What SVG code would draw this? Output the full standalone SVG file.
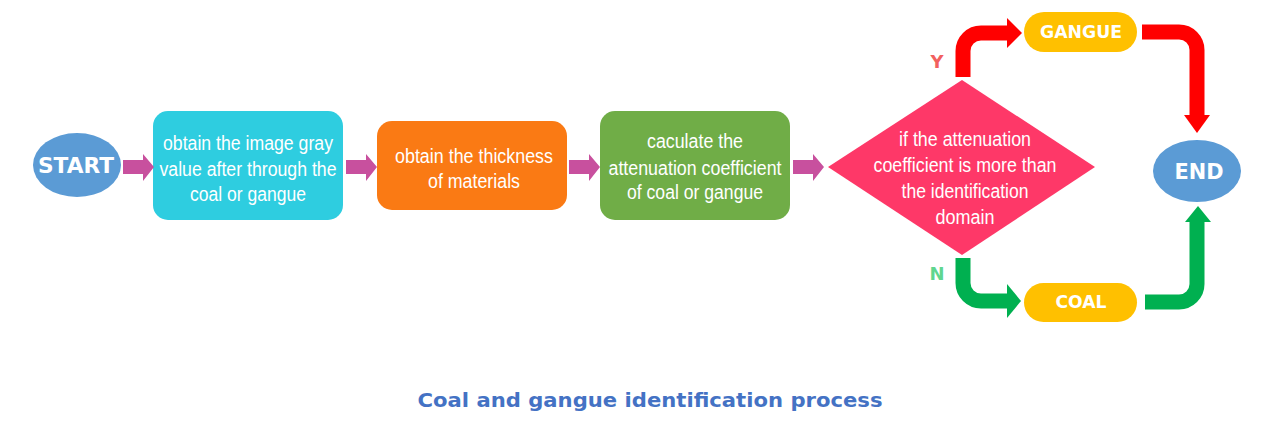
<svg xmlns="http://www.w3.org/2000/svg" width="1261" height="441" viewBox="0 0 1261 441">
<style>
.t{font-family:"Liberation Sans",Arial,sans-serif;font-size:20px;fill:#fff;text-anchor:middle}
.b{font-family:"DejaVu Sans","Liberation Sans",Arial,sans-serif;font-weight:bold;fill:#fff;text-anchor:middle}
.ha{fill:#C8509E}
.red{fill:none;stroke:#FF0000;stroke-width:15}
.grn{fill:none;stroke:#00B050;stroke-width:15}
</style>
<rect width="1261" height="441" fill="#fff"/>
<g id="start">
<ellipse cx="77" cy="165" rx="44" ry="32" fill="#5B9BD5"/>
<text class="b" x="76" y="173" font-size="21" textLength="76" lengthAdjust="spacingAndGlyphs">START</text>
</g>
<g id="step1">
<rect x="153" y="111" width="190" height="109" rx="15" fill="#2ECDE0"/>
<text class="t" x="248" y="150" textLength="170" lengthAdjust="spacingAndGlyphs">obtain the image gray</text>
<text class="t" x="248" y="176" textLength="177" lengthAdjust="spacingAndGlyphs">value after through the</text>
<text class="t" x="248" y="201" textLength="116" lengthAdjust="spacingAndGlyphs">coal or gangue</text>
</g>
<g id="step2">
<rect x="377" y="121" width="190" height="89" rx="15" fill="#FA7A14"/>
<text class="t" x="474" y="163" textLength="158" lengthAdjust="spacingAndGlyphs">obtain the thickness</text>
<text class="t" x="474" y="188" textLength="92" lengthAdjust="spacingAndGlyphs">of materials</text>
</g>
<g id="step3">
<rect x="600" y="111" width="190" height="109" rx="15" fill="#70AD47"/>
<text class="t" x="695" y="148" textLength="96" lengthAdjust="spacingAndGlyphs">caculate the</text>
<text class="t" x="695" y="175" textLength="173" lengthAdjust="spacingAndGlyphs">attenuation coefficient</text>
<text class="t" x="695" y="199" textLength="136" lengthAdjust="spacingAndGlyphs">of coal or gangue</text>
</g>
<g id="decision">
<polygon points="828,167 962,80 1095,167 962,255" fill="#FE3868"/>
<text class="t" x="965" y="146" textLength="132" lengthAdjust="spacingAndGlyphs">if the attenuation</text>
<text class="t" x="965" y="172" textLength="183" lengthAdjust="spacingAndGlyphs">coefficient is more than</text>
<text class="t" x="965" y="198" textLength="127" lengthAdjust="spacingAndGlyphs">the identification</text>
<text class="t" x="965" y="224" textLength="59" lengthAdjust="spacingAndGlyphs">domain</text>
</g>
<g id="gangue">
<rect x="1024" y="12" width="113" height="40" rx="20" fill="#FFC000"/>
<text class="b" x="1081" y="38" font-size="17" textLength="82" lengthAdjust="spacingAndGlyphs">GANGUE</text>
</g>
<g id="coal">
<rect x="1024" y="283" width="113" height="39" rx="19.5" fill="#FFC000"/>
<text class="b" x="1081" y="308" font-size="17" textLength="51" lengthAdjust="spacingAndGlyphs">COAL</text>
</g>
<g id="end">
<ellipse cx="1197" cy="171" rx="44" ry="31" fill="#5B9BD5"/>
<text class="b" x="1199" y="179" font-size="21" textLength="49" lengthAdjust="spacingAndGlyphs">END</text>
</g>
<g id="connectors">
<polygon class="ha" points="123,160 143,160 143,154 154,167 143,181 143,174 123,174"/>
<polygon class="ha" points="346,160 366,160 366,154 377,167 366,181 366,174 346,174"/>
<polygon class="ha" points="569,160 589,160 589,154 600,167 589,181 589,174 569,174"/>
<polygon class="ha" points="793,160 813,160 813,154 824,167 813,181 813,174 793,174"/>
<path class="red" d="M963 77 V51 A18 18 0 0 1 981 33 H1008"/>
<polygon points="1007,18 1022,33 1007,48" fill="#FF0000"/>
<path class="red" d="M1142 32 H1179 A18 18 0 0 1 1197 50 V116"/>
<polygon points="1184,115 1210,115 1197,133" fill="#FF0000"/>
<path class="grn" d="M963 258 V283 A18 18 0 0 0 981 301 H1008"/>
<polygon points="1007,284 1021,301 1007,318" fill="#00B050"/>
<path class="grn" d="M1145 302 H1179 A18 18 0 0 0 1197 284 V221"/>
<polygon points="1185,222 1211,222 1198,206" fill="#00B050"/>
<text class="b" x="937" y="68" font-size="18" style="fill:#F2605E">Y</text>
<text class="b" x="937" y="280" font-size="18" style="fill:#5FD68F">N</text>
</g>
<text x="650" y="407" font-family="'DejaVu Sans','Liberation Sans',Arial,sans-serif" font-weight="bold" font-size="20" fill="#4472C4" text-anchor="middle" textLength="465" lengthAdjust="spacingAndGlyphs">Coal and gangue identification process</text>
</svg>
